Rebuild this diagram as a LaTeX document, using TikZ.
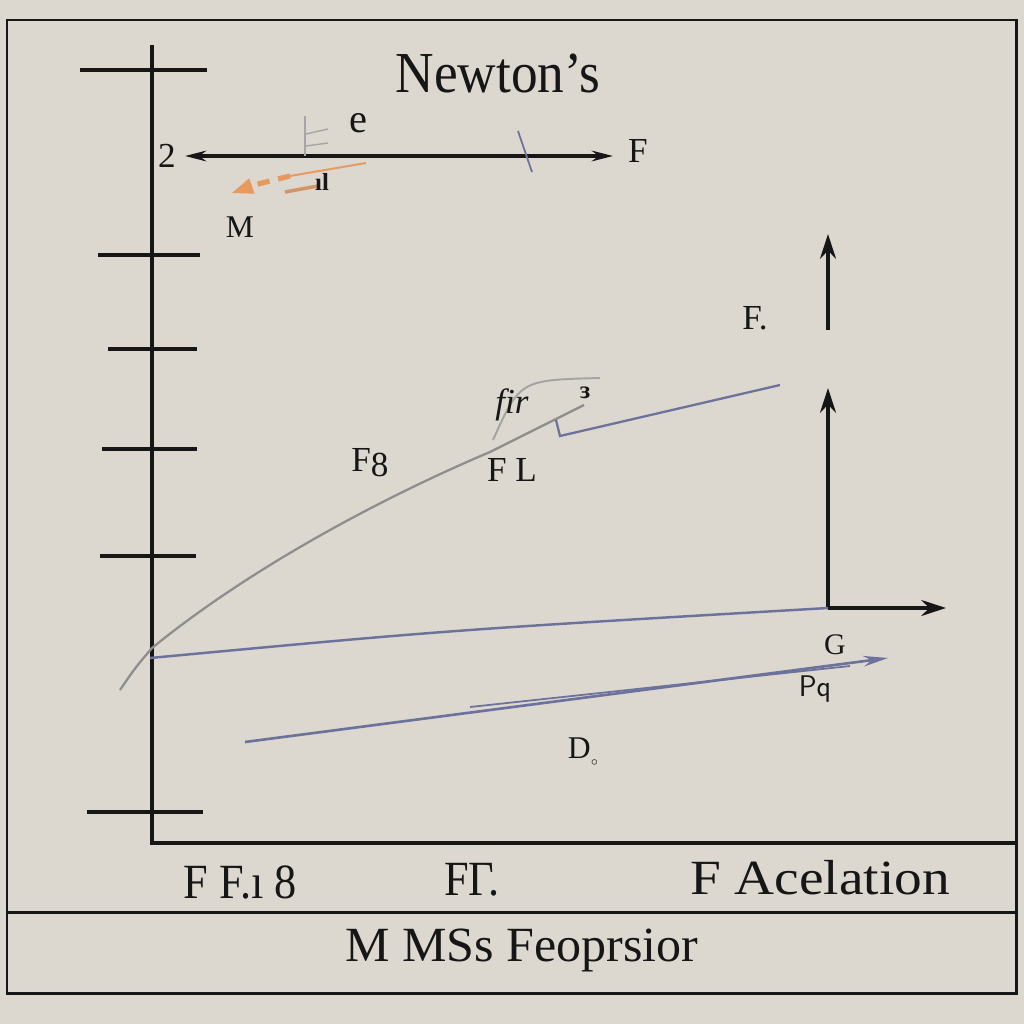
\documentclass[tikz,border=0pt]{standalone}
\usepackage{fontspec}
\setmainfont{Liberation Serif}
\usetikzlibrary{arrows.meta}
\definecolor{bg}{HTML}{DCD7CF}
\definecolor{ink}{HTML}{161616}
\definecolor{bluegray}{HTML}{6C729C}
\definecolor{curvegray}{HTML}{8E8E8E}
\definecolor{orng}{HTML}{E89A5E}
\tikzset{
  frame/.style={draw=ink, line width=1.7pt},
  axisline/.style={draw=ink, line width=2.2pt},
  tickline/.style={draw=ink, line width=2pt},
  thickarrow/.style={draw=ink, line width=2.4pt, -{Stealth[length=14pt,width=9pt]}},
  lbl/.style={font=\fontsize{20}{22}\selectfont, text=ink, inner sep=0pt},
  biglbl/.style={font=\fontsize{28}{30}\selectfont, text=ink, inner sep=0pt, xscale=0.9},
  thinblue/.style={draw=bluegray, line width=1.3pt},
}
\begin{document}
\begin{tikzpicture}[x=0.02cm,y=-0.02cm]
\useasboundingbox (0,0) rectangle (1024,1024);
\fill[bg] (0,0) rectangle (1024,1024);
% frame
\coordinate (ftl) at (7,20); \coordinate (ftr) at (1016,20);
\coordinate (fbl) at (7,993); \coordinate (fbr) at (1016,993);
\draw[frame] (ftl) -- (ftr) -- (fbr) -- (fbl) -- cycle;
\coordinate (sepL) at (7,912); \coordinate (sepR) at (1016,912);
\draw[frame] (sepL) -- (sepR);
% axes
\coordinate (ytop) at (152,45); \coordinate (orig) at (152,843); \coordinate (xend) at (1016,843);
\draw[axisline] (ytop) -- (orig) -- (xend);
% ticks
\foreach \y/\a/\b [count=\i] in {70/80/207, 255/98/200, 349/108/197, 449/102/197, 556/100/196, 812/87/203}{
  \coordinate (tl\i) at (\a,\y); \coordinate (tr\i) at (\b,\y);
  \draw[tickline] (tl\i) -- (tr\i);
}
% title
\node[font=\fontsize{33}{35}\selectfont, text=ink, inner sep=0pt, xscale=0.92] (title) at (498,74) {Newton's};
% top double arrow
\coordinate (hL) at (185,156); \coordinate (hR) at (613,156);
\draw[draw=ink, line width=2.2pt, {Stealth[length=12pt,width=6pt]}-{Stealth[length=12pt,width=6pt]}] (hL) -- (hR);
\node[lbl] (two) at (167,156) {2};
\node[lbl] (fR) at (638,151) {F};
\node[lbl, font=\fontsize{23}{25}\selectfont] (e) at (358,123) {e};
\coordinate (sl1) at (518,131); \coordinate (sl2) at (532,172);
\draw[bluegray, line width=1pt] (sl1) -- (sl2);
% garbled gray marks
\coordinate (g1) at (305,116); \coordinate (g2) at (305,156);
\draw[gray!70, line width=1pt] (g1) -- (g2);
\coordinate (g3) at (306,134); \coordinate (g4) at (328,129);
\draw[gray!70, line width=0.8pt] (g3) -- (g4);
\coordinate (g5) at (306,146); \coordinate (g6) at (328,143);
\draw[gray!70, line width=0.8pt] (g5) -- (g6);
% orange dashed arrow
\coordinate (oS) at (366,163); \coordinate (oE) at (232,193);
\draw[orng, line width=1.1pt] (oS) -- (290,176);
\draw[orng, line width=3pt, dash pattern=on 7pt off 5pt] (290,176) -- (250,186);
\draw[orng, line width=1pt, -{Triangle[length=12pt,width=9pt]}] (252,186) -- (oE);
\coordinate (o3) at (285,192); \coordinate (o4) at (318,186);
\draw[orng!80!gray, line width=2pt] (o3) -- (o4);
\node[lbl, font=\fontsize{14}{16}\selectfont\bfseries] (il) at (322,182) {ıl};
\node[lbl, font=\fontsize{18}{20}\selectfont] (M) at (240,227) {M};
% main gray curve
\coordinate (cA) at (120,690); \coordinate (cB) at (152,648);
\coordinate (cC) at (490,452); \coordinate (cD) at (584,405);
\draw[curvegray, line width=1.3pt] (cA) .. controls (135,668) .. (cB)
  .. controls (260,560) and (400,490) .. (cC) -- (cD);
\coordinate (fa1) at (493,440); \coordinate (fa2) at (600,378);
\draw[curvegray!80, line width=1.1pt] (fa1) .. controls (520,380) .. (fa2);
\coordinate (bk1) at (556,420); \coordinate (bk2) at (560,436); \coordinate (bk3) at (780,385);
\draw[thinblue] (bk1) -- (bk2) -- (bk3);
\node[lbl] (F8) at (370,463) {F\raisebox{-3pt}{8}};
\node[lbl] (FL) at (512,470) {F L};
\node[lbl, font=\fontsize{20}{22}\selectfont\itshape] (fir) at (512,405) {fir};
\node[lbl, font=\fontsize{14}{16}\selectfont\bfseries] (ez) at (585,393) {ɜ};
% right axes
\coordinate (rO) at (828,608); \coordinate (rUp) at (828,388);
\coordinate (rX) at (946,608);
\draw[thickarrow] (rO) -- (rUp);
\draw[thickarrow] (rO) -- (rX);
\coordinate (u1) at (828,330); \coordinate (u2) at (828,234);
\draw[thickarrow] (u1) -- (u2);
\node[lbl] (Fdot) at (755,318) {F.};
% long blue-gray line to origin
\coordinate (bl1) at (150,658);
\draw[thinblue, line width=1.4pt] (bl1) .. controls (450,630) .. (rO);
\node[lbl, font=\fontsize{17}{19}\selectfont] (G) at (835,645) {G};
\node[lbl, font=\fontsize{17}{19}\selectfont\sffamily] (Pq) at (815,689) {Pq};
% lower blue arrow
\coordinate (la1) at (245,742); \coordinate (la2) at (888,658);
\draw[thinblue, line width=1.5pt, -{Stealth[length=14pt,width=6pt]}] (la1) -- (la2);
\coordinate (la3) at (470,707); \coordinate (la4) at (850,666);
\draw[thinblue, line width=1pt] (la3) -- (la4);
\node[lbl, font=\fontsize{18}{20}\selectfont] (D) at (583,752) {D\raisebox{-4pt}{\scriptsize$\circ$}};
% bottom labels
\node[biglbl] (b1) at (240,882) {F F.ı 8};
\node[biglbl] (b2) at (472,880) {FΓ.};
\node[biglbl, xscale=1.25] (b3) at (820,878) {F Acelation};
\node[biglbl, xscale=1.13] (b4) at (522,950) {M MSs Feoprsior};
\end{tikzpicture}
\end{document}
